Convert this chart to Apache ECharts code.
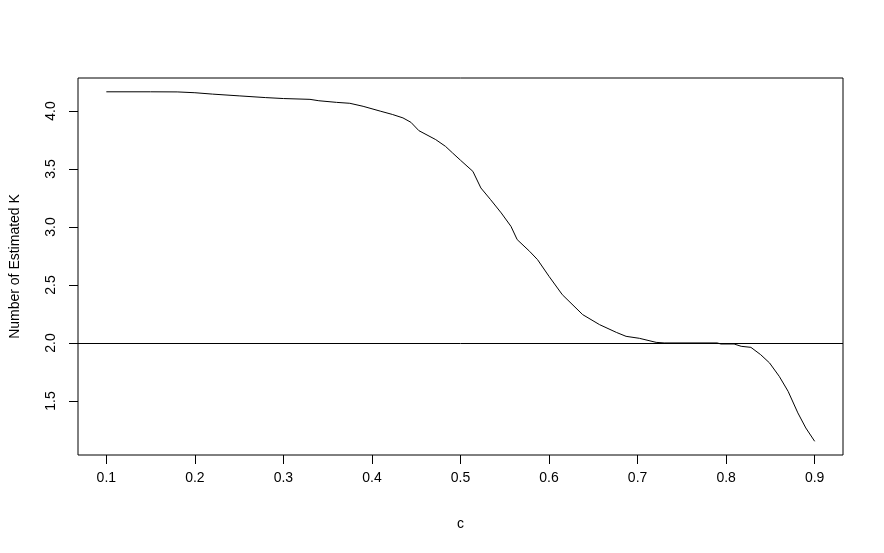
<!DOCTYPE html>
<html>
<head>
<meta charset="utf-8">
<script src="https://cdn.jsdelivr.net/npm/echarts@6/dist/echarts.min.js"></script>
<style>html,body{margin:0;padding:0;background:#fff;}#chart{width:884px;height:553px;}</style>
</head>
<body>
<div id="chart"></div>
<script>
const cValues = [0.10,0.15,0.18,0.20,0.22,0.25,0.28,0.30,0.33,0.34,0.36,0.375,0.39,0.41,0.423,0.435,0.444,0.453,0.472,0.483,0.491,0.50,0.514,0.523,0.534,0.546,0.557,0.564,0.578,0.587,0.60,0.615,0.638,0.657,0.676,0.687,0.702,0.721,0.73,0.79,0.794,0.809,0.817,0.828,0.839,0.849,0.86,0.87,0.881,0.89,0.90];
const kValues = [4.165,4.165,4.164,4.157,4.145,4.13,4.115,4.107,4.10,4.088,4.074,4.066,4.04,3.997,3.97,3.94,3.902,3.83,3.753,3.695,3.638,3.575,3.479,3.336,3.235,3.121,3.005,2.891,2.79,2.718,2.574,2.416,2.244,2.158,2.091,2.057,2.04,2.005,2.0,2.0,1.991,1.991,1.971,1.962,1.899,1.828,1.712,1.583,1.397,1.267,1.152];
const xTicks = [0.1,0.2,0.3,0.4,0.5,0.6,0.7,0.8,0.9];
const yTicks = [1.5,2.0,2.5,3.0,3.5,4.0];
const refLine = 2.0;

const chart = echarts.init(document.getElementById('chart'), null, {renderer:'canvas'});
const font = 'Liberation Sans, Arial, sans-serif';
chart.setOption({
  animation: false,
  grid: {left:78, right:41, top:78, bottom:98, outerBoundsMode:'none', containLabel:false, show:true, borderColor:'#000', borderWidth:1, backgroundColor:'transparent'},
  xAxis: {
    type:'value', min:0.068, max:0.932,
    name:'c', nameLocation:'middle', nameGap:62,
    nameTextStyle:{fontFamily:font, fontSize:14, color:'#000'},
    axisLine:{show:false},
    splitLine:{show:false},
    axisTick:{show:true, inside:false, length:9, lineStyle:{color:'#000'}, customValues:xTicks},
    axisLabel:{fontFamily:font, fontSize:14, color:'#000', margin:16, customValues:xTicks, formatter:v=>v.toFixed(1)}
  },
  yAxis: {
    type:'value', min:1.034, max:4.284,
    name:'Number of Estimated K', nameLocation:'middle', nameGap:56,
    nameTextStyle:{fontFamily:font, fontSize:14, color:'#000'},
    axisLine:{show:false},
    splitLine:{show:false},
    axisTick:{show:true, inside:false, length:9, lineStyle:{color:'#000'}, customValues:yTicks},
    axisLabel:{fontFamily:font, fontSize:14, color:'#000', margin:20, rotate:90, customValues:yTicks, formatter:v=>v.toFixed(1)}
  },
  series: [{
    type:'line',
    data: cValues.map((c,i)=>[c,kValues[i]]),
    showSymbol:false,
    lineStyle:{color:'#000', width:1},
    markLine:{
      silent:true, symbol:['none','none'], label:{show:false},
      lineStyle:{color:'#000', width:1, type:'solid'},
      data:[{yAxis:refLine}]
    }
  }]
});
</script>
</body>
</html>
